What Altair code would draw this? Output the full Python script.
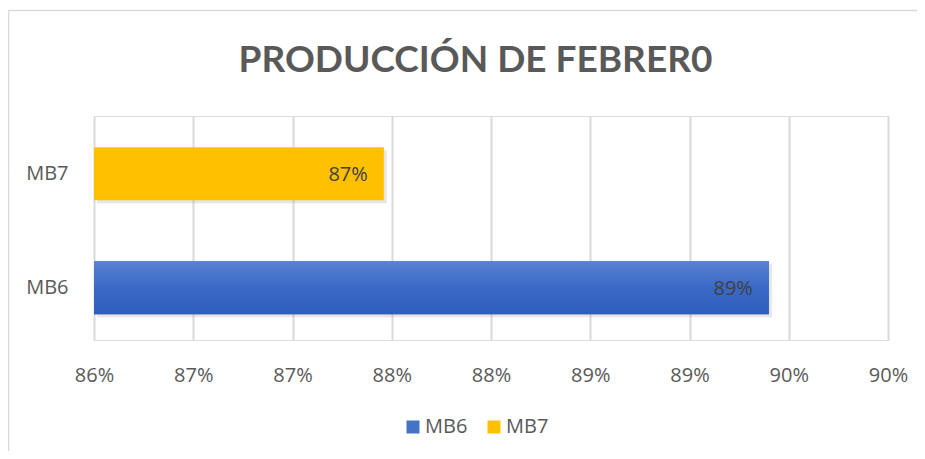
import altair as alt
import pandas as pd

title_text = "PRODUCCIÓN DE FEBRER0"
categories = ["MB7", "MB6"]
values = [0.8746, 0.8940]
value_labels = ["87%", "89%"]
legend_order = ["MB6", "MB7"]
colors = ["#4472c4", "#ffc000"]
tick_values = [0.86, 0.865, 0.87, 0.875, 0.88, 0.885, 0.89, 0.895, 0.90]
tick_labels = ["86%", "87%", "87%", "88%", "88%", "89%", "89%", "90%", "90%"]

df = pd.DataFrame({"cat": categories, "val": values, "lab": value_labels})
one = pd.DataFrame({"t": [title_text]})

label_expr = "[" + ",".join(f"'{t}'" for t in tick_labels) + "][indexof([" + \
    ",".join(str(v) for v in tick_values) + "], datum.value)]"

FONT = "Open Sans"
GRAY = "#595959"

xscale = alt.Scale(domain=[0.86, 0.90], nice=False, zero=False, clamp=True)
yscale = alt.Scale(paddingInner=0.535, paddingOuter=0.25, align=0.55)

x = alt.X("val:Q", scale=xscale,
          axis=alt.Axis(values=tick_values, labelExpr=label_expr, title=None, grid=True,
                        gridColor="#d9d9d9", gridWidth=2, domain=False, ticks=False,
                        labelFlush=False, labelOverlap=False,
                        labelFont=FONT, labelFontSize=20, labelColor=GRAY, labelPadding=25))
y = alt.Y("cat:N", sort=categories, scale=yscale,
          axis=alt.Axis(title=None, domain=False, ticks=False, labelFont=FONT,
                        labelFontSize=20, labelColor=GRAY, labelPadding=26))

border = alt.Chart(one).mark_rect(fillOpacity=0, stroke="#d9d9d9", strokeWidth=1.5).encode(
    x=alt.value(-85.5), x2=alt.value(840), y=alt.value(-105.5), y2=alt.value(345))

title = alt.Chart(one).mark_text(font="Lato", fontSize=37, fontWeight="bold", color=GRAY,
                                 align="center", baseline="alphabetic").encode(
    x=alt.value(381.5), y=alt.value(-44), text="t:N")

shadow = alt.Chart(df).mark_bar(color="#8c8c8c", opacity=0.22, xOffset=3, yOffset=3).encode(
    x=alt.X("val:Q", scale=xscale), y=alt.Y("cat:N", sort=categories, scale=yscale))

bars = alt.Chart(df).mark_bar().encode(
    x=x, y=y,
    color=alt.Color("cat:N", scale=alt.Scale(domain=legend_order, range=colors),
                    legend=alt.Legend(title=None, orient="none", direction="horizontal",
                                      legendX=309, legendY=301, symbolType="square",
                                      symbolSize=169, symbolStrokeWidth=0,
                                      labelFont=FONT, labelFontSize=20, labelColor=GRAY,
                                      columnPadding=16, labelOffset=2)),
)

blue_grad = alt.Chart(df).transform_filter(alt.datum.cat == "MB6").mark_bar(
    color=alt.Gradient(gradient="linear", x1=0, x2=0, y1=0, y2=1,
                       stops=[alt.GradientStop(color="#5b81d1", offset=0),
                              alt.GradientStop(color="#3a69c6", offset=0.5),
                              alt.GradientStop(color="#2e5dbd", offset=1)])).encode(
    x=alt.X("val:Q", scale=xscale), y=alt.Y("cat:N", sort=categories, scale=yscale))

text = alt.Chart(df).mark_text(align="right", baseline="middle", dx=-16, dy=1, fontSize=20,
                               font=FONT, color="#404040").encode(
    x="val:Q", y=alt.Y("cat:N", sort=categories), text="lab:N")

chart = alt.layer(border, title, shadow, bars, blue_grad, text).properties(
    width=794, height=224,
    autosize=alt.AutoSizeParams(type="none"),
    padding={"left": 86, "top": 108, "right": 29, "bottom": 111},
).configure_view(stroke=None).configure(background="white")

chart.save("out.html", embed_options={"renderer": "svg", "actions": False})
